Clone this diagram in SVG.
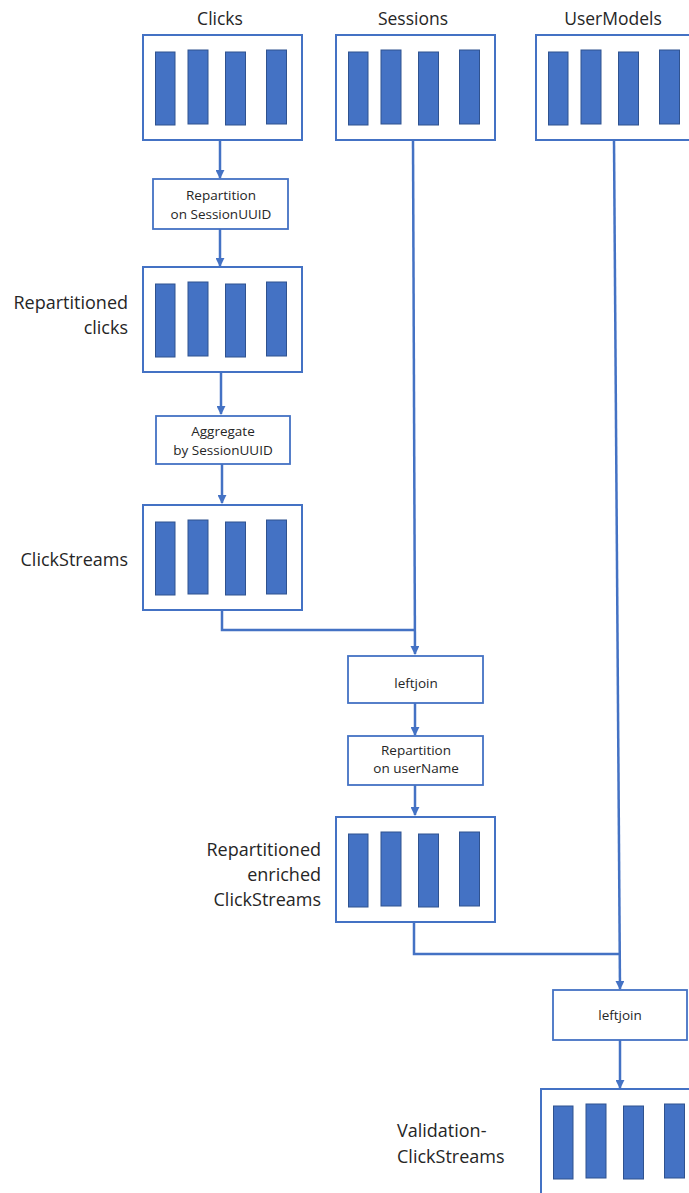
<svg xmlns="http://www.w3.org/2000/svg" width="689" height="1193" viewBox="0 0 689 1193">
  <defs>
    <marker id="arrow" viewBox="0 0 10 10" refX="9" refY="5" markerWidth="3.6" markerHeight="3.6" orient="auto" markerUnits="strokeWidth">
      <path d="M0,0 L10,5 L0,10 z" fill="#4472C4"/>
    </marker>
    <!-- a partitioned stream: frame plus four partition bars -->
    <g id="stream">
      <rect x="0" y="0" width="159" height="105" fill="#FFFFFF" stroke="#4472C4" stroke-width="2"/>
      <rect x="12.5" y="17" width="19.5" height="73" class="bar"/>
      <rect x="45" y="15" width="20" height="74" class="bar"/>
      <rect x="82.5" y="17" width="20" height="73" class="bar"/>
      <rect x="123.5" y="15" width="20" height="74" class="bar"/>
    </g>
  </defs>
  <style>
    .bar { fill: #4472C4; stroke: #2F528F; stroke-width: 1; }
    .op { fill: #FFFFFF; stroke: #4472C4; stroke-width: 1.8; }
    .title { font-family: "Open Sans", "Noto Sans", sans-serif; font-size: 17.5px; fill: #262626; }
    .label { font-family: "Open Sans", "Noto Sans", sans-serif; font-size: 18px; fill: #262626; }
    .optext { font-family: "Open Sans", "Noto Sans", sans-serif; font-size: 13.5px; fill: #262626; text-anchor: middle; }
    .edge { fill: none; stroke: #4472C4; stroke-width: 2.5; }
  </style>

  <rect width="689" height="1193" fill="#FFFFFF"/>

  <!-- connectors -->
  <g id="connectors">
    <path class="edge" d="M220,140 V178" marker-end="url(#arrow)"/>
    <path class="edge" d="M220,229 V266" marker-end="url(#arrow)"/>
    <path class="edge" d="M221,372 V414" marker-end="url(#arrow)"/>
    <path class="edge" d="M222,464 V503" marker-end="url(#arrow)"/>
    <path class="edge" d="M222,610 V630 H414"/>
    <path class="edge" d="M413,140 L415,654" marker-end="url(#arrow)"/>
    <path class="edge" d="M415,703 V735" marker-end="url(#arrow)"/>
    <path class="edge" d="M415,785 V815" marker-end="url(#arrow)"/>
    <path class="edge" d="M414,920 V954 H619"/>
    <path class="edge" d="M614,140 L620,989" marker-end="url(#arrow)"/>
    <path class="edge" d="M620,1040 V1088" marker-end="url(#arrow)"/>
  </g>

  <!-- source topics -->
  <g id="clicks">
    <text class="title" x="220" y="25" text-anchor="middle">Clicks</text>
    <use href="#stream" x="143" y="35"/>
  </g>
  <g id="sessions">
    <text class="title" x="413" y="25" text-anchor="middle">Sessions</text>
    <use href="#stream" x="336" y="35"/>
  </g>
  <g id="usermodels">
    <text class="title" x="613" y="25" text-anchor="middle">UserModels</text>
    <use href="#stream" x="536" y="35"/>
  </g>

  <g id="repartition-session">
    <rect class="op" x="153" y="179" width="135" height="50"/>
    <text class="optext" x="221" y="200">Repartition</text>
    <text class="optext" x="221" y="219">on SessionUUID</text>
  </g>

  <g id="repartitioned-clicks">
    <text class="label" x="128" y="309" text-anchor="end">Repartitioned</text>
    <text class="label" x="128" y="334" text-anchor="end">clicks</text>
    <use href="#stream" x="143" y="267"/>
  </g>

  <g id="aggregate">
    <rect class="op" x="156" y="416" width="134" height="48"/>
    <text class="optext" x="223" y="436">Aggregate</text>
    <text class="optext" x="223" y="455">by SessionUUID</text>
  </g>

  <g id="clickstreams">
    <text class="label" x="128" y="566" text-anchor="end">ClickStreams</text>
    <use href="#stream" x="143" y="505"/>
  </g>

  <g id="leftjoin-sessions">
    <rect class="op" x="348" y="656" width="135" height="47"/>
    <text class="optext" x="416" y="688">leftjoin</text>
  </g>

  <g id="repartition-username">
    <rect class="op" x="348" y="736" width="135" height="49"/>
    <text class="optext" x="416" y="755">Repartition</text>
    <text class="optext" x="416" y="773">on userName</text>
  </g>

  <g id="repartitioned-enriched">
    <text class="label" x="321" y="856" text-anchor="end">Repartitioned</text>
    <text class="label" x="321" y="881" text-anchor="end">enriched</text>
    <text class="label" x="321" y="906" text-anchor="end">ClickStreams</text>
    <use href="#stream" x="336" y="817"/>
  </g>

  <g id="leftjoin-usermodels">
    <rect class="op" x="553" y="990" width="134" height="50"/>
    <text class="optext" x="620" y="1020">leftjoin</text>
  </g>

  <g id="validation-clickstreams">
    <text class="label" x="397" y="1137">Validation-</text>
    <text class="label" x="397" y="1163">ClickStreams</text>
    <use href="#stream" x="541" y="1089"/>
  </g>
</svg>
